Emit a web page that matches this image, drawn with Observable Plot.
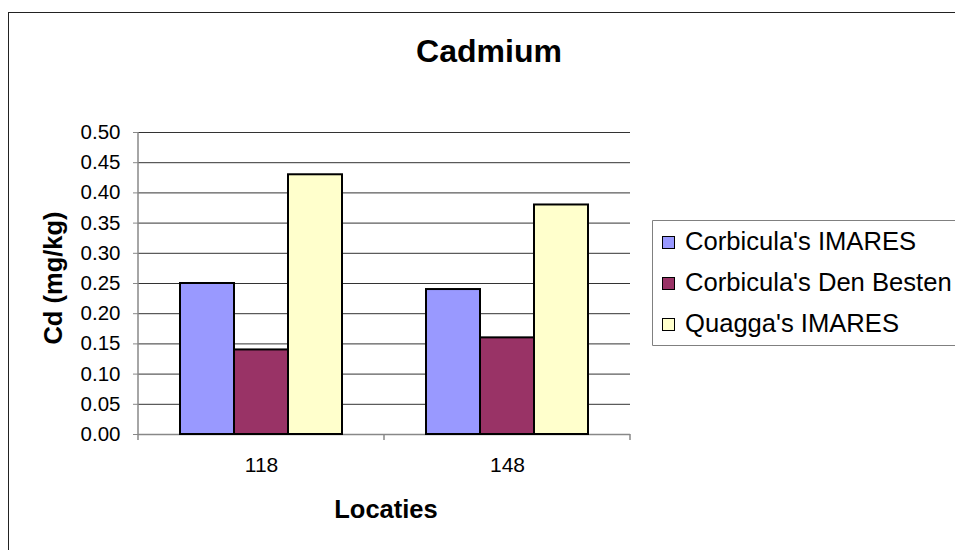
<!DOCTYPE html>
<html>
<head>
<meta charset="utf-8">
<script src="https://cdn.jsdelivr.net/npm/d3@7"></script>
<script src="https://cdn.jsdelivr.net/npm/@observablehq/plot@0.6"></script>
<style>
  html, body { margin: 0; padding: 0; background: #fff; overflow: hidden; }
  #wrap { width: 955px; height: 550px; overflow: hidden; position: relative; font-family: "Liberation Sans", Arial, sans-serif; }
  #frame { position: absolute; left: 8px; top: 12px; width: 1000px; height: 600px; border: 1px solid #222; box-sizing: border-box; }
  #chart { position: absolute; left: 0; top: 0; }
</style>
</head>
<body>
<div id="wrap">
<div id="frame"></div>
<div id="chart"></div>
</div>
<script>
// ---- data ----
const locations = ["118", "148"];
const series = ["Corbicula's IMARES", "Corbicula's Den Besten", "Quagga's IMARES"];
const values118 = [0.25, 0.14, 0.43];
const values148 = [0.24, 0.16, 0.38];
const colors = ["#9999FF", "#993366", "#FFFFCC"];
const yTicks = [0, 0.05, 0.10, 0.15, 0.20, 0.25, 0.30, 0.35, 0.40, 0.45, 0.50];
const titleText = "Cadmium";
const yLabel = "Cd (mg/kg)";
const xLabel = "Locaties";

const valuesByLoc = [values118, values148];
const data = [];
locations.forEach((loc, i) => series.forEach((s, j) => data.push({loc, series: s, value: valuesByLoc[i][j]})));

const plot = Plot.plot({
  width: 955,
  height: 550,
  marginLeft: 138,
  marginRight: 325,
  marginTop: 132,
  marginBottom: 116,
  style: {fontFamily: "'Liberation Sans', Arial, sans-serif", fontSize: "20.5px", background: "transparent", overflow: "hidden", color: "#000"},
  fx: {domain: locations, padding: 0, axis: null},
  x: {domain: series, paddingInner: 0, paddingOuter: 0.75, axis: null},
  y: {domain: [0, 0.5], axis: null},
  color: {domain: series, range: colors},
  marks: [
    Plot.gridY(yTicks.filter(d => d > 0), {stroke: "#333", strokeOpacity: 1, strokeWidth: 1}),
    Plot.ruleY([0], {stroke: "#888", strokeWidth: 1.5}),
    Plot.barY(data, {fx: "loc", x: "series", y: "value", fill: "series", stroke: "#000", strokeWidth: 2}),
    Plot.axisY(yTicks, {tickSize: 5, tickPadding: 13, tickFormat: d3.format(".2f"), stroke: "#888", fontSize: 20.5, label: null}),
    Plot.axisFx({anchor: "bottom", tickSize: 0, tickPadding: 23, fontSize: 21, label: null})
  ]
});
document.getElementById("chart").appendChild(plot);

// axis lines and category boundary ticks from the plot's own scales
const svg = d3.select(plot);
const fx = plot.scale("fx");
const y = plot.scale("y");
const y0 = y.apply(0), y1 = y.apply(0.5);
const bounds = fx.domain.map(d => fx.apply(d));
bounds.push(fx.apply(fx.domain[fx.domain.length - 1]) + fx.bandwidth);
const g = svg.append("g");
g.append("line").attr("x1", bounds[0]).attr("x2", bounds[0]).attr("y1", y1).attr("y2", y0)
  .attr("stroke", "#888").attr("stroke-width", 1.5);
bounds.forEach(b => g.append("line").attr("x1", b).attr("x2", b).attr("y1", y0).attr("y2", y0 + 6)
  .attr("stroke", "#888").attr("stroke-width", 1.5));

// titles
const plotMidX = (bounds[0] + bounds[bounds.length - 1]) / 2;
svg.append("text").text(titleText).attr("x", 489).attr("y", 62)
  .attr("text-anchor", "middle").attr("font-weight", "bold").attr("font-size", 32).attr("fill", "#000");
svg.append("text").text(xLabel).attr("x", plotMidX + 2).attr("y", 518)
  .attr("text-anchor", "middle").attr("font-weight", "bold").attr("font-size", 25.5).attr("fill", "#000");
svg.append("text").text(yLabel).attr("transform", `translate(62,${(y0 + y1) / 2 - 5}) rotate(-90)`)
  .attr("text-anchor", "middle").attr("font-weight", "bold").attr("font-size", 25.5).attr("fill", "#000");

// legend (box open to the right: it runs past the picture edge)
const lg = svg.append("g").attr("class", "legend").attr("font-size", 25.6).attr("text-anchor", "start");
const lx = 652.5, ly = 220.5, lh = 125;
lg.append("path").attr("d", `M1000,${ly}H${lx}V${ly + lh}H1000`)
  .attr("fill", "#fff").attr("stroke", "#808080").attr("stroke-width", 1);
series.forEach((s, i) => {
  const base = 250 + i * 41;
  lg.append("rect").attr("x", 662.5).attr("y", base - 13.5).attr("width", 12).attr("height", 12)
    .attr("fill", colors[i]).attr("stroke", "#000").attr("stroke-width", 1);
  lg.append("text").text(s).attr("x", 685).attr("y", base).attr("text-anchor", "start").attr("fill", "#000");
});
</script>
</body>
</html>
